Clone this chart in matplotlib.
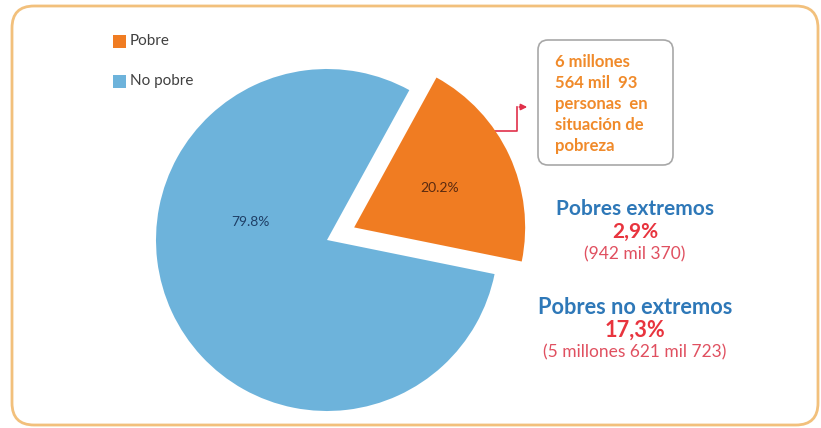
import matplotlib.pyplot as plt
from matplotlib.patches import FancyBboxPatch, Rectangle

plt.rcParams['font.family'] = ['Lato', 'DejaVu Sans']

# data
labels = ['Pobre', 'No pobre']
values = [20.2, 79.8]
colors = ['#F07C22', '#6DB3DB']
pct_colors = ['#5A2A10', '#1F3F66']

box_text = '6 millones\n564 mil  93\npersonas  en\nsituación de\npobreza'
groups = [
    ('Pobres extremos', '2,9%', '(942 mil 370)'),
    ('Pobres no extremos', '17,3%', '(5 millones 621 mil 723)'),
]

W, H = 821, 428
fig = plt.figure(figsize=(W / 100, H / 100), dpi=100)

# overlay in pixel coords
over = fig.add_axes([0, 0, 1, 1])
over.set_xlim(0, W)
over.set_ylim(H, 0)
over.axis('off')

# outer rounded frame
over.add_patch(FancyBboxPatch((12, 6), 806, 419, boxstyle='round,pad=0,rounding_size=22',
                              fc='none', ec='#F2C07C', lw=2, clip_on=False))

# pie
cx, cy, R = 327, 240, 171
pie_ax = fig.add_axes([(cx - R) / W, (H - cy - R) / H, 2 * R / W, 2 * R / H])
wedges, texts, autotexts = pie_ax.pie(values, colors=colors, startangle=-11.5,
                                      explode=[0.175, 0], autopct='%.1f%%',
                                      pctdistance=0.55, radius=1,
                                      textprops=dict(fontsize=10))
pie_ax.set_xlim(-1, 1)
pie_ax.set_ylim(-1, 1)
pie_ax.set_aspect('auto')
pie_ax.axis('off')
for w in wedges:
    w.set_clip_on(False)
for t, c in zip(autotexts, pct_colors):
    t.set_color(c)
    t.set_clip_on(False)
autotexts[1].set_position((-0.45, 0.105))

# legend
for i, (lab, col) in enumerate(zip(labels, colors)):
    y = 41 + i * 40
    over.add_patch(Rectangle((113, y - 6), 13, 13, fc=col, ec='none'))
    over.text(130, y, lab, fontsize=11, color='#404040', va='center', ha='left')

# callout box
over.add_patch(FancyBboxPatch((538, 40), 135, 125, boxstyle='round,pad=0,rounding_size=10',
                              fc='white', ec='#A8A8A8', lw=1.2))
over.text(555, 54, box_text, fontsize=12, fontweight='bold', color='#F08A2A',
          va='top', ha='left', linespacing=1.38)

# arrow from orange wedge to box
over.plot([493, 517, 517], [131, 131, 107], color='#E0304A', lw=1.2)
over.annotate('', xy=(530, 107), xytext=(516.5, 107),
              arrowprops=dict(arrowstyle='-|>', color='#E0304A', lw=1.2, mutation_scale=9))

# group annotations
gx = 635
for (title, pct, count), y0, fs in zip(groups, [209, 307], [15, 15.7]):
    over.text(gx, y0, title, fontsize=fs, fontweight='bold', color='#2E78B8', ha='center', va='center')
    over.text(gx, y0 + 23, pct, fontsize=fs, fontweight='bold', color='#E8343E', ha='center', va='center')
    over.text(gx, y0 + 45, count, fontsize=12.5, color='#E05060', ha='center', va='center')

fig.savefig('out.png', dpi=100)
